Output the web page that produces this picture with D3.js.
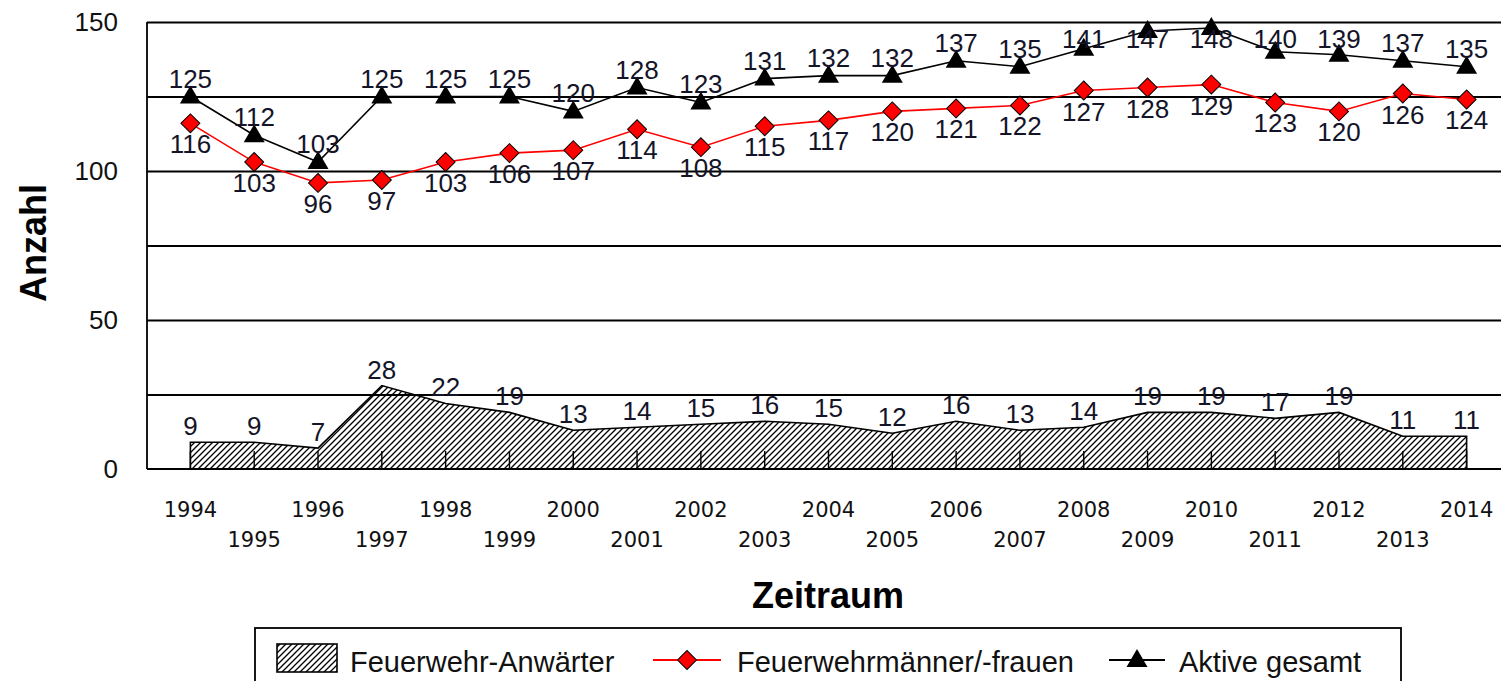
<!DOCTYPE html>
<html>
<head>
<meta charset="utf-8">
<script src="https://cdn.jsdelivr.net/npm/d3@7"></script>
<style>
  body { margin: 0; background: #fff; }
  svg { display: block; font-family: "Liberation Sans", Arial, sans-serif; }
  .grid line { stroke: #000; stroke-width: 1.8px; }
  .grid path { display: none; }
</style>
</head>
<body>
<svg width="1501" height="681"></svg>
<script>
/*
Data: years and the three series
*/
var years = ["1994","1995","1996","1997","1998","1999","2000","2001","2002","2003","2004",
             "2005","2006","2007","2008","2009","2010","2011","2012","2013","2014"];
var anwaerter = [9,9,7,28,22,19,13,14,15,16,15,12,16,13,14,19,19,17,19,11,11];
var feuerwehr = [116,103,96,97,103,106,107,114,108,115,117,120,121,122,127,128,129,123,120,126,124];
var aktive = [125,112,103,125,125,125,120,128,123,131,132,132,137,135,141,147,148,140,139,137,135];
var yTicks = [0,50,100,150];
var gridTicks = [25,50,75,100,125,150];
var seriesNames = ["Feuerwehr-Anwärter", "Feuerwehrmänner/-frauen", "Aktive gesamt"];

/*
SVG/Group/Margin Declarations
(the plot area runs a little past the right edge of the picture)
*/
var svg = d3.select("svg"),
    margin = {top: 22, right: -9, bottom: 212, left: 147},
    width = svg.attr("width") - margin.left - margin.right,
    height = svg.attr("height") - margin.top - margin.bottom,
    g = svg.append("g").attr("transform", "translate(" + margin.left + "," + margin.top + ")");

var xScale = d3.scalePoint().domain(years).range([0, width]).padding(0.68),
    yScale = d3.scaleLinear().domain([0, 150]).range([height, 0]);

/*
Hatch pattern for the area series
*/
var defs = svg.append("defs");
defs.append("pattern")
    .attr("id", "hatch")
    .attr("patternUnits", "userSpaceOnUse")
    .attr("width", 6)
    .attr("height", 6)
  .append("path")
    .attr("d", "M-1,1 l2,-2 M0,6 l6,-6 M5,7 l2,-2")
    .attr("stroke", "#000")
    .attr("stroke-width", 1.3);

/*
Gridlines
*/
g.append("g")
    .attr("class", "grid")
    .call(d3.axisLeft(yScale).tickValues(gridTicks).tickSize(-width).tickFormat(""));

/*
Area: Feuerwehr-Anwärter
*/
var area = d3.area()
    .x(function(d, i) { return xScale(years[i]); })
    .y0(yScale(0))
    .y1(function(d) { return yScale(d); });

g.append("path")
    .datum(anwaerter)
    .attr("d", area)
    .attr("fill", "url(#hatch)")
    .attr("stroke", "#000")
    .attr("stroke-width", 1.6);

/*
Axes: left line, bottom line, inner category ticks
*/
g.append("line")
    .attr("x1", 0).attr("x2", 0)
    .attr("y1", yScale(150)).attr("y2", yScale(0))
    .attr("stroke", "#000").attr("stroke-width", 1.8);

g.append("line")
    .attr("x1", 0).attr("x2", width)
    .attr("y1", yScale(0)).attr("y2", yScale(0))
    .attr("stroke", "#000").attr("stroke-width", 1.8);

g.selectAll(".cattick")
    .data(years)
    .enter().append("line")
    .attr("class", "cattick")
    .attr("x1", function(d) { return xScale(d); })
    .attr("x2", function(d) { return xScale(d); })
    .attr("y1", yScale(0))
    .attr("y2", yScale(0) - 18)
    .attr("stroke", "#000")
    .attr("stroke-width", 1.4);

/*
Y tick labels
*/
g.selectAll(".ylab")
    .data(yTicks)
    .enter().append("text")
    .attr("class", "ylab")
    .attr("x", -29)
    .attr("y", function(d) { return yScale(d); })
    .attr("dy", "0.36em")
    .attr("text-anchor", "end")
    .style("font-size", "26px")
    .style("fill", "#111")
    .text(function(d) { return d; });

/*
Year labels, staggered in two rows
*/
g.selectAll(".xlab")
    .data(years)
    .enter().append("text")
    .attr("class", "xlab")
    .attr("x", function(d) { return xScale(d); })
    .attr("y", function(d, i) { return i % 2 === 0 ? height + 48 : height + 78; })
    .attr("text-anchor", "middle")
    .style("font-family", "'DejaVu Sans', sans-serif")
    .style("font-size", "21px")
    .style("fill", "#111")
    .text(function(d) { return d; });

/*
Lines with markers
*/
var line = d3.line()
    .x(function(d, i) { return xScale(years[i]); })
    .y(function(d) { return yScale(d); });

var diamond = d3.symbol().type(d3.symbolSquare).size(180);
var triangle = "M0,-11L10.5,7L-10.5,7Z";

g.append("path")
    .datum(feuerwehr)
    .attr("d", line)
    .attr("fill", "none")
    .attr("stroke", "#ff0000")
    .attr("stroke-width", 1.6);

g.append("path")
    .datum(aktive)
    .attr("d", line)
    .attr("fill", "none")
    .attr("stroke", "#000")
    .attr("stroke-width", 1.6);

g.selectAll(".dia")
    .data(feuerwehr)
    .enter().append("path")
    .attr("class", "dia")
    .attr("d", diamond)
    .attr("transform", function(d, i) { return "translate(" + xScale(years[i]) + "," + yScale(d) + ")rotate(45)"; })
    .attr("fill", "#ff0000")
    .attr("stroke", "#000")
    .attr("stroke-width", 1);

g.selectAll(".tri")
    .data(aktive)
    .enter().append("path")
    .attr("class", "tri")
    .attr("d", triangle)
    .attr("transform", function(d, i) { return "translate(" + xScale(years[i]) + "," + yScale(d) + ")"; })
    .attr("fill", "#000");

/*
Data labels
labels that would stick out of the plot area are pushed down into it
(baseline no higher than 26px below the plot top)
*/
function labels(data, cls, dy) {
    g.selectAll("." + cls)
        .data(data)
        .enter().append("text")
        .attr("class", cls)
        .attr("x", function(d, i) { return xScale(years[i]); })
        .attr("y", function(d) { return Math.max(yScale(d) + dy, 26); })
        .attr("text-anchor", "middle")
        .style("font-size", "26px")
        .style("fill", "#141428")
        .text(function(d) { return d; });
}
labels(anwaerter, "lab-a", -7);
labels(feuerwehr, "lab-f", 30);
labels(aktive, "lab-t", -9);

/*
Axis titles
*/
svg.append("text")
    .attr("transform", "translate(46,243)rotate(-90)")
    .attr("text-anchor", "middle")
    .style("font-size", "36px")
    .style("font-weight", "bold")
    .text("Anzahl");

svg.append("text")
    .attr("x", 828)
    .attr("y", 608)
    .attr("text-anchor", "middle")
    .style("font-size", "36px")
    .style("font-weight", "bold")
    .text("Zeitraum");

/*
Legend
*/
var legend = svg.append("g");
legend.append("rect")
    .attr("x", 255).attr("y", 628)
    .attr("width", 1146).attr("height", 80)
    .attr("fill", "#fff")
    .attr("stroke", "#000")
    .attr("stroke-width", 1.8);

legend.append("rect")
    .attr("x", 277).attr("y", 644)
    .attr("width", 60).attr("height", 28)
    .attr("fill", "url(#hatch)")
    .attr("stroke", "#000")
    .attr("stroke-width", 1.6);

legend.append("line")
    .attr("x1", 653).attr("x2", 721)
    .attr("y1", 660).attr("y2", 660)
    .attr("stroke", "#ff0000").attr("stroke-width", 1.8);
legend.append("path")
    .attr("d", diamond)
    .attr("transform", "translate(687,660)rotate(45)")
    .attr("fill", "#ff0000")
    .attr("stroke", "#000")
    .attr("stroke-width", 1);

legend.append("line")
    .attr("x1", 1109).attr("x2", 1165)
    .attr("y1", 660).attr("y2", 660)
    .attr("stroke", "#000").attr("stroke-width", 1.8);
legend.append("path")
    .attr("d", triangle)
    .attr("transform", "translate(1137,660)")
    .attr("fill", "#000");

var legendX = [350, 737, 1179];
legend.selectAll(".legtext")
    .data(seriesNames)
    .enter().append("text")
    .attr("class", "legtext")
    .attr("x", function(d, i) { return legendX[i]; })
    .attr("y", 672)
    .style("font-size", "29px")
    .style("fill", "#111")
    .text(function(d) { return d; });
</script>
</body>
</html>
